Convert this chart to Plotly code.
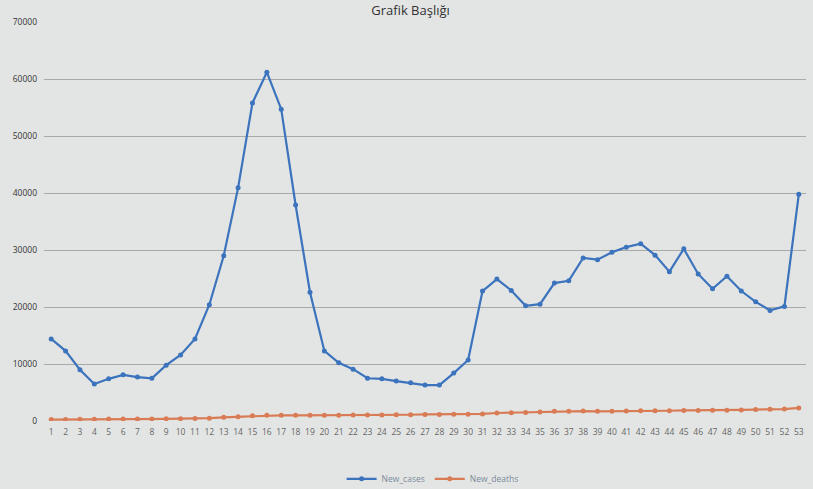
import plotly.graph_objects as go

weeks = list(range(1, 54))
new_cases = [14400, 12300, 9000, 6500, 7400, 8100, 7700, 7500, 9800, 11600,
             14400, 20400, 29000, 40900, 55800, 61200, 54700, 37900, 22600, 12300,
             10200, 9100, 7500, 7400, 7000, 6700, 6300, 6300, 8400, 10700,
             22800, 24900, 22900, 20200, 20500, 24200, 24600, 28600, 28300, 29600,
             30500, 31100, 29100, 26200, 30200, 25800, 23200, 25400, 22800, 20900,
             19400, 20100, 39800]
new_deaths = [250, 280, 300, 320, 330, 350, 340, 360, 380, 400,
              430, 500, 650, 750, 900, 1000, 1000, 1000, 1000, 1000,
              1000, 1050, 1050, 1050, 1100, 1100, 1150, 1150, 1200, 1200,
              1250, 1400, 1450, 1500, 1600, 1700, 1700, 1750, 1700, 1700,
              1750, 1800, 1800, 1800, 1850, 1850, 1900, 1900, 1950, 2000,
              2050, 2100, 2300]
y_ticks = [0, 10000, 20000, 30000, 40000, 50000, 60000, 70000]

fig = go.Figure()
fig.add_trace(go.Scatter(x=weeks, y=new_cases, name="New_cases", mode="lines+markers",
                         line=dict(color="#3b73bd", width=2.2),
                         marker=dict(color="#3b73bd", size=5)))
fig.add_trace(go.Scatter(x=weeks, y=new_deaths, name="New_deaths", mode="lines+markers",
                         line=dict(color="#d97c55", width=2.2),
                         marker=dict(color="#d97c55", size=5)))

fig.update_layout(
    width=813, height=489,
    paper_bgcolor="#e3e5e4", plot_bgcolor="#e3e5e4",
    margin=dict(l=44, r=7, t=22, b=68, autoexpand=False),
    title=dict(text="Grafik Başlığı", x=0.505, xanchor="center", y=0.987, yanchor="top",
               yref="container", font=dict(family="Open Sans", size=13, color="#333333")),
    font=dict(family="Open Sans", color="#555555"),
    xaxis=dict(range=[0.5, 53.5], tickmode="array", tickvals=weeks, automargin=False,
               ticktext=[str(w) for w in weeks], tickfont=dict(size=8.5, color="#666666"),
               ticklabelstandoff=4,
               showgrid=False, zeroline=False, showline=False, ticks=""),
    yaxis=dict(range=[0, 70000], tickmode="array", tickvals=y_ticks, automargin=False,
               ticktext=[str(v) for v in y_ticks], tickfont=dict(size=8.5, color="#333333"),
               ticklabelstandoff=6,
               showgrid=True, gridcolor="#a8aaaa", gridwidth=1, zeroline=False,
               showline=False, ticks=""),
    legend=dict(orientation="h", x=0.51, xanchor="center", y=-0.145, yanchor="middle",
                font=dict(size=8.5, color="#7a8a9a"), bgcolor="rgba(0,0,0,0)"),
    showlegend=True,
)

fig.write_html("out.html", config={"displayModeBar": False},
               post_script="document.body.style.margin='0';")
